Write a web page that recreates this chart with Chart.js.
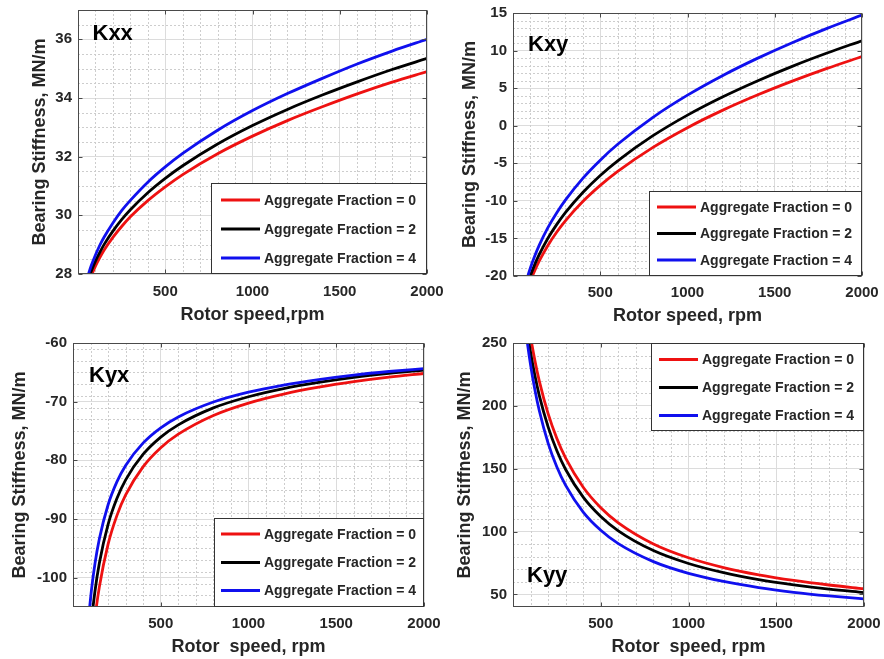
<!DOCTYPE html>
<html>
<head>
<meta charset="utf-8">
<title>Bearing stiffness vs rotor speed</title>
<script src="https://cdn.jsdelivr.net/npm/chart.js@4.4.1/dist/chart.umd.min.js"></script>
<style>
  html, body { margin: 0; padding: 0; background: #ffffff; }
  #board { position: relative; width: 884px; height: 659px; overflow: hidden; background: #ffffff; }
  #board canvas { position: absolute; left: 0; top: 0; }
</style>
</head>
<body>
<div id="board">
  <canvas id="kxx" width="884" height="659"></canvas>
  <canvas id="kxy" width="884" height="659"></canvas>
  <canvas id="kyx" width="884" height="659"></canvas>
  <canvas id="kyy" width="884" height="659"></canvas>
</div>
<script>
// ---------------- data ----------------
const speedRpm = [50, 75, 100, 125, 150, 200, 250, 300, 400, 500, 600, 800, 1000, 1200, 1400, 1600, 1800, 2000];
const fractionLabels = ['Aggregate Fraction = 0', 'Aggregate Fraction = 2', 'Aggregate Fraction = 4'];

// Kxx, MN/m
const kxxAF0 = [27.50, 27.92, 28.27, 28.56, 28.82, 29.25, 29.62, 29.95, 30.50, 30.97, 31.39, 32.10, 32.70, 33.23, 33.70, 34.14, 34.54, 34.90];
const kxxAF2 = [27.63, 28.08, 28.44, 28.74, 29.01, 29.46, 29.85, 30.19, 30.77, 31.26, 31.69, 32.43, 33.06, 33.61, 34.10, 34.55, 34.97, 35.35];
const kxxAF4 = [27.80, 28.27, 28.65, 28.98, 29.26, 29.74, 30.16, 30.51, 31.13, 31.65, 32.11, 32.90, 33.57, 34.15, 34.67, 35.16, 35.60, 36.00];

// Kxy, MN/m
const kxyAF0 = [-24.51, -22.36, -20.67, -19.25, -18.02, -15.93, -14.18, -12.66, -10.09, -7.94, -6.07, -2.91, -0.26, 2.04, 4.08, 5.93, 7.63, 9.20];
const kxyAF2 = [-23.97, -21.72, -19.94, -18.45, -17.17, -14.98, -13.16, -11.57, -8.88, -6.62, -4.67, -1.36, 1.41, 3.82, 5.96, 7.90, 9.67, 11.31];
const kxyAF4 = [-23.24, -20.82, -18.91, -17.31, -15.92, -13.57, -11.61, -9.90, -7.00, -4.58, -2.47, 1.09, 4.07, 6.66, 8.96, 11.05, 12.96, 14.72];

// Kyx, MN/m
const kyxAF0 = [-144.68, -125.44, -114.32, -106.93, -101.61, -94.29, -89.42, -85.90, -81.08, -77.85, -75.54, -72.35, -70.24, -68.71, -67.54, -66.60, -65.83, -65.20];
const kyxAF2 = [-136.49, -119.09, -109.03, -102.35, -97.54, -90.91, -86.51, -83.32, -78.96, -76.04, -73.95, -71.06, -69.16, -67.77, -66.72, -65.86, -65.17, -64.60];
const kyxAF4 = [-127.77, -112.42, -103.55, -97.65, -93.41, -87.57, -83.68, -80.87, -77.03, -74.45, -72.60, -70.06, -68.38, -67.16, -66.23, -65.47, -64.86, -64.36];

// Kyy, MN/m
const kyyAF0 = [306.1, 278.0, 255.1, 235.9, 219.7, 193.8, 174.0, 158.4, 135.3, 119.0, 107.0, 90.2, 79.2, 71.4, 65.6, 61.1, 57.5, 54.5];
const kyyAF2 = [292.4, 264.8, 242.4, 223.9, 208.2, 183.3, 164.3, 149.4, 127.4, 112.0, 100.6, 84.9, 74.6, 67.3, 61.8, 57.6, 54.2, 51.5];
const kyyAF4 = [289.0, 257.5, 232.7, 212.7, 196.1, 170.4, 151.3, 136.7, 115.5, 101.0, 90.4, 76.1, 66.8, 60.3, 55.4, 51.7, 48.8, 46.4];

// tick labels
const speedTicks = [500, 1000, 1500, 2000];
const kxxTicks = [28, 30, 32, 34, 36];
const kxyTicks = [-20, -15, -10, -5, 0, 5, 10, 15];
const kyxTicks = [-100, -90, -80, -70, -60];
const kyyTicks = [50, 100, 150, 200, 250];

// ---------------- styling ----------------
const W = 884, H = 659;
const FONT = '"Liberation Sans", Arial, Helvetica, sans-serif';
const TEXT = '#262626';
const FRAME = '#4a4a4a';
const MAJOR_GRID = '#dcdcdc';
const MINOR_GRID = '#cdcdcd';
const LINE_COLORS = ['#ee1111', '#000000', '#1010ee'];

Chart.defaults.font.family = FONT;

// minor grid, box frame with inward ticks, inset legend and panel tag
const decor = {
  id: 'decor',
  beforeDatasetsDraw(chart, _args, o) {
    const { ctx, chartArea: a, scales: { x, y } } = chart;
    ctx.save();
    ctx.strokeStyle = MINOR_GRID;
    ctx.lineWidth = 1;
    ctx.setLineDash([2, 2]);
    ctx.beginPath();
    const nx = Math.round((x.max - x.min) / o.xMinor);
    for (let i = 1; i < nx; i++) {
      const v = x.min + i * o.xMinor;
      if (speedTicks.includes(v)) continue;
      const px = Math.round(x.getPixelForValue(v)) + 0.5;
      ctx.moveTo(px, a.top); ctx.lineTo(px, a.bottom);
    }
    const ny = Math.round((y.max - y.min) / o.yMinor);
    for (let i = 1; i < ny; i++) {
      const v = +(y.min + i * o.yMinor).toFixed(6);
      if (o.yMajor.includes(v)) continue;
      const py = Math.round(y.getPixelForValue(v)) + 0.5;
      ctx.moveTo(a.left, py); ctx.lineTo(a.right, py);
    }
    ctx.stroke();
    ctx.restore();
  },
  afterDraw(chart, _args, o) {
    const { ctx, chartArea: a, scales: { x, y } } = chart;
    const l = Math.round(a.left) + 0.5, r = Math.round(a.right) - 0.5;
    const t = Math.round(a.top) + 0.5, b = Math.round(a.bottom) - 0.5;
    ctx.save();
    // frame
    ctx.strokeStyle = FRAME;
    ctx.lineWidth = 1;
    ctx.setLineDash([]);
    ctx.strokeRect(l, t, r - l, b - t);
    // inward tick marks
    const tl = 4;
    ctx.beginPath();
    speedTicks.forEach(v => {
      const px = Math.round(x.getPixelForValue(v)) + 0.5;
      ctx.moveTo(px, b); ctx.lineTo(px, b - tl);
      ctx.moveTo(px, t); ctx.lineTo(px, t + tl);
    });
    o.yMajor.forEach(v => {
      const py = Math.round(y.getPixelForValue(v)) + 0.5;
      ctx.moveTo(l, py); ctx.lineTo(l + tl, py);
      ctx.moveTo(r, py); ctx.lineTo(r - tl, py);
    });
    ctx.stroke();

    // legend
    const lg = o.legend;
    const x0 = Math.round(a.right - lg.w);
    const y0 = lg.corner === 'tr' ? Math.round(a.top) : Math.round(a.bottom - lg.h);
    ctx.fillStyle = '#ffffff';
    ctx.fillRect(x0, y0, lg.w, lg.h);
    ctx.strokeStyle = '#333333';
    ctx.strokeRect(x0 + 0.5, y0 + 0.5, lg.w - 1, lg.h - 1);
    ctx.font = 'bold 14px ' + FONT;
    ctx.textAlign = 'left';
    ctx.textBaseline = 'middle';
    chart.data.datasets.forEach((ds, i) => {
      const cy = y0 + lg.rows[i];
      ctx.strokeStyle = ds.borderColor;
      ctx.lineWidth = 3;
      ctx.beginPath();
      ctx.moveTo(x0 + lg.lineFrom, cy);
      ctx.lineTo(x0 + lg.lineTo, cy);
      ctx.stroke();
      ctx.fillStyle = TEXT;
      ctx.fillText(ds.label, x0 + lg.textAt, cy + 1);
    });

    // panel tag
    const tg = o.tag;
    ctx.font = 'bold 22px ' + FONT;
    ctx.fillStyle = '#000000';
    ctx.textBaseline = 'alphabetic';
    const ty = tg.from === 'bottom' ? a.bottom - tg.dy : a.top + tg.dy;
    ctx.fillText(tg.text, a.left + tg.dx, ty);
    ctx.restore();
  }
};

function buildPanel(p) {
  const datasets = p.series.map((vals, i) => ({
    label: fractionLabels[i],
    data: speedRpm.map((s, j) => ({ x: s, y: vals[j] })),
    borderColor: LINE_COLORS[i],
    borderWidth: 2.8,
    pointRadius: 0,
    fill: false,
    cubicInterpolationMode: 'monotone',
    clip: 0,
    order: 2 - i
  }));
  const zeroPad = s => { s.paddingLeft = 0; s.paddingRight = 0; s.paddingTop = 0; s.paddingBottom = 0; };
  return new Chart(document.getElementById(p.id), {
    type: 'line',
    data: { datasets },
    options: {
      responsive: false,
      animation: false,
      devicePixelRatio: 1,
      events: [],
      layout: {
        padding: {
          left: p.area.left - p.yW,
          right: W - p.area.right,
          top: p.area.top,
          bottom: H - p.area.bottom - p.xH
        }
      },
      plugins: {
        legend: { display: false },
        tooltip: { enabled: false },
        decor: { xMinor: 100, yMinor: p.yMinor, yMajor: p.yTicks, legend: p.legend, tag: p.tag }
      },
      scales: {
        x: {
          type: 'linear',
          position: 'bottom',
          min: 0,
          max: 2000,
          afterBuildTicks: s => { s.ticks = speedTicks.map(v => ({ value: v })); },
          afterFit: s => { s.height = p.xH; zeroPad(s); },
          border: { display: false },
          grid: { color: MAJOR_GRID, lineWidth: 1, drawTicks: false },
          ticks: {
            autoSkip: false, maxRotation: 0, padding: p.xTickPad,
            color: TEXT, font: { size: 15, weight: 'bold' },
            callback: v => String(v)
          },
          title: {
            display: true, text: p.xTitle, color: TEXT,
            font: { size: 18, weight: 'bold' },
            padding: { top: 0, bottom: p.xTitlePad }
          }
        },
        y: {
          type: 'linear',
          position: 'left',
          min: p.yMin,
          max: p.yMax,
          afterBuildTicks: s => { s.ticks = p.yTicks.map(v => ({ value: v })); },
          afterFit: s => { s.width = p.yW; zeroPad(s); },
          border: { display: false },
          grid: { color: MAJOR_GRID, lineWidth: 1, drawTicks: false },
          ticks: {
            padding: 6, color: TEXT, font: { size: 15, weight: 'bold' },
            callback: v => String(v)
          },
          title: {
            display: true, text: 'Bearing Stiffness, MN/m', color: TEXT,
            font: { size: 18, weight: 'bold' },
            padding: { top: p.yTitlePad, bottom: 0 }
          }
        }
      }
    },
    plugins: [decor]
  });
}

const panels = [
  {
    id: 'kxx', series: [kxxAF0, kxxAF2, kxxAF4], yMin: 28, yMax: 37, yTicks: kxxTicks, yMinor: 0.5,
    area: { left: 78, right: 427, top: 10, bottom: 274 }, yW: 78, xH: 56,
    xTickPad: 9, xTitlePad: 4, yTitlePad: 29, xTitle: 'Rotor speed,rpm',
    legend: { corner: 'br', w: 216, h: 91, rows: [17, 46, 75], lineFrom: 10, lineTo: 49, textAt: 53 },
    tag: { text: 'Kxx', dx: 14.5, dy: 29.5, from: 'top' }
  },
  {
    id: 'kxy', series: [kxyAF0, kxyAF2, kxyAF4], yMin: -20, yMax: 15, yTicks: kxyTicks, yMinor: 1,
    area: { left: 513, right: 862, top: 13, bottom: 276 }, yW: 73, xH: 56,
    xTickPad: 8, xTitlePad: 5, yTitlePad: 19, xTitle: 'Rotor speed, rpm',
    legend: { corner: 'br', w: 213, h: 85, rows: [16, 42.5, 69], lineFrom: 8, lineTo: 47, textAt: 51 },
    tag: { text: 'Kxy', dx: 15, dy: 37.5, from: 'top' }
  },
  {
    id: 'kyx', series: [kyxAF0, kyxAF2, kyxAF4], yMin: -105, yMax: -60, yTicks: kyxTicks, yMinor: 2,
    area: { left: 73, right: 424, top: 343, bottom: 607 }, yW: 73, xH: 52,
    xTickPad: 8, xTitlePad: 1, yTitlePad: 9, xTitle: 'Rotor  speed, rpm',
    legend: { corner: 'br', w: 210, h: 89, rows: [16, 44.5, 72.5], lineFrom: 7, lineTo: 46, textAt: 50 },
    tag: { text: 'Kyx', dx: 16, dy: 38.5, from: 'top' }
  },
  {
    id: 'kyy', series: [kyyAF0, kyyAF2, kyyAF4], yMin: 40, yMax: 250, yTicks: kyyTicks, yMinor: 10,
    area: { left: 513, right: 864, top: 343, bottom: 607 }, yW: 73, xH: 52,
    xTickPad: 8, xTitlePad: 1, yTitlePad: 14, xTitle: 'Rotor  speed, rpm',
    legend: { corner: 'tr', w: 213, h: 88, rows: [16.5, 44.5, 72.5], lineFrom: 8, lineTo: 47, textAt: 51 },
    tag: { text: 'Kyy', dx: 14, dy: 25, from: 'bottom' }
  }
];

panels.forEach(buildPanel);
</script>
</body>
</html>
